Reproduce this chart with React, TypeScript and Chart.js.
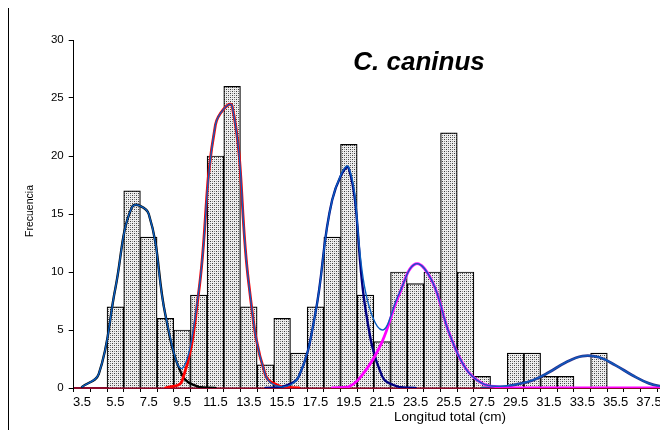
import React, { useEffect, useRef } from "react";
import { Chart, registerables } from "chart.js";

Chart.register(...registerables);

const FONT = "'Liberation Sans', Arial, Helvetica, sans-serif";

const categories = [
  "3.5", "4.5", "5.5", "6.5", "7.5", "8.5", "9.5", "10.5", "11.5", "12.5",
  "13.5", "14.5", "15.5", "16.5", "17.5", "18.5", "19.5", "20.5", "21.5", "22.5",
  "23.5", "24.5", "25.5", "26.5", "27.5", "28.5", "29.5", "30.5", "31.5", "32.5",
  "33.5", "34.5", "35.5", "36.5", "37.5", "38.5",
];

// observed frequencies (bars)
const frequency = [
  0, 0, 7, 17, 13, 6, 5, 8, 20, 26,
  7, 2, 6, 3, 7, 13, 21, 8, 4, 10,
  9, 10, 22, 10, 1, 0, 3, 3, 1, 1,
  0, 3, 0, 0, 0, 0,
];

// total fitted curve
const mixture = [
  0.1, 1.2, 8.6, 15.6, 15.0, 6.3, 1.7, 8.4, 22.7, 24.3,
  9.0, 1.1, 0.1, 1.0, 6.5, 16.2, 19.0, 8.3, 5.0, 8.1,
  10.7, 9.2, 4.8, 1.7, 0.4, 0.15, 0.3, 0.65, 1.35, 2.2,
  2.75, 2.65, 1.95, 1.1, 0.4, 0.05,
];

const N = null;
// cohort 1 (black)
const cohort1 = [
  0.1, 1.2, 8.6, 15.6, 15.0, 6.3, 1.1, 0.1, 0, N,
  N, N, N, N, N, N, N, N, N, N,
  N, N, N, N, N, N, N, N, N, N,
  N, N, N, N, N, N,
];
// cohort 2 (red)
const cohort2 = [
  N, N, N, N, N, 0, 0.6, 8.3, 22.7, 24.3,
  9.0, 1.1, 0.1, 0, N, N, N, N, N, N,
  N, N, N, N, N, N, N, N, N, N,
  N, N, N, N, N, N,
];
// cohort 3 (navy)
const cohort3 = [
  N, N, N, N, N, N, N, N, N, N,
  N, 0, 0.1, 1.0, 6.5, 16.2, 18.9, 6.8, 1.0, 0.1,
  0, N, N, N, N, N, N, N, N, N,
  N, N, N, N, N, N,
];
// cohort 4 (magenta)
const cohort4 = [
  N, N, N, N, N, N, N, N, N, N,
  N, N, N, N, N, 0, 0.1, 1.5, 4.0, 8.0,
  10.7, 9.2, 4.8, 1.7, 0.4, 0.1, 0, 0, 0, 0,
  0, 0, 0, 0, 0, 0,
];
// cohort 5 (blue-violet)
const cohort5 = [
  N, N, N, N, N, N, N, N, N, N,
  N, N, N, N, N, N, N, N, N, N,
  N, N, N, N, 0, 0.05, 0.3, 0.65, 1.35, 2.2,
  2.75, 2.65, 1.95, 1.1, 0.4, 0.05,
];

const yTicksMax = 30;
const yTickStep = 5;

export default function App() {
  const ref = useRef<HTMLCanvasElement>(null);

  useEffect(() => {
    document.documentElement.style.overflow = "hidden";
    const canvas = ref.current!;
    const pc = document.createElement("canvas");
    pc.width = 4;
    pc.height = 4;
    const p = pc.getContext("2d")!;
    p.fillStyle = "#eeeeee";
    p.fillRect(0, 0, 4, 4);
    p.fillStyle = "#3c3c3c";
    p.fillRect(0, 0, 1, 1);
    p.fillRect(2, 2, 1, 1);
    p.fillStyle = "#8c8c8c";
    p.fillRect(2, 0, 1, 1);
    p.fillRect(0, 2, 1, 1);
    const pattern = canvas.getContext("2d")!.createPattern(pc, "repeat");

    const decor = {
      id: "decor",
      afterDraw(chart: any) {
        const ctx = chart.ctx as CanvasRenderingContext2D;
        ctx.save();
        ctx.strokeStyle = "#000";
        ctx.lineWidth = 1;
        ctx.beginPath();
        ctx.moveTo(0.5, chart.height);
        ctx.lineTo(0.5, 0.5);
        ctx.lineTo(chart.width, 0.5);
        ctx.stroke();

        ctx.fillStyle = "#000";
        ctx.textAlign = "center";
        ctx.textBaseline = "alphabetic";
        ctx.font = `italic bold 26px ${FONT}`;
        ctx.fillText("C. caninus", 411, 63);

        ctx.textBaseline = "middle";
        ctx.font = `13.5px ${FONT}`;
        ctx.fillText("Longitud total (cm)", 442, 410);

        ctx.translate(22, 204);
        ctx.rotate(-Math.PI / 2);
        ctx.font = `10.5px ${FONT}`;
        ctx.fillText("Frecuencia", 0, 0);
        ctx.restore();
      },
    };

    const lineCommon = {
      type: "line" as const,
      pointRadius: 0,
      pointHoverRadius: 0,
      tension: 0.4,
      fill: false,
      borderCapStyle: "round" as const,
      borderJoinStyle: "round" as const,
    };

    const chart = new Chart(canvas, {
      type: "bar",
      data: {
        labels: categories,
        datasets: [
          { ...lineCommon, data: mixture, borderColor: "#0A5EC0", borderWidth: 1.4, order: 0 },
          { ...lineCommon, data: cohort4, borderColor: "#FF00FF", borderWidth: 2.8, order: 1 },
          { ...lineCommon, data: cohort5, borderColor: "#2E2E8C", borderWidth: 2.8, order: 2 },
          { ...lineCommon, data: cohort3, borderColor: "#000080", borderWidth: 2.4, order: 3 },
          { ...lineCommon, data: cohort2, borderColor: "#FF0000", borderWidth: 2.8, order: 4 },
          { ...lineCommon, data: cohort1, borderColor: "#000000", borderWidth: 2.4, order: 5 },
          {
            type: "bar",
            data: frequency,
            backgroundColor: pattern as any,
            borderColor: "#000",
            borderWidth: 1.2,
            barPercentage: 1,
            categoryPercentage: 1,
            order: 10,
          },
        ] as any,
      },
      options: {
        responsive: false,
        maintainAspectRatio: false,
        animation: false,
        devicePixelRatio: 1,
        layout: { padding: { left: 0, top: 33, right: 34, bottom: 0 } },
        plugins: {
          legend: { display: false },
          tooltip: { enabled: false },
          title: { display: false },
        },
        scales: {
          x: {
            type: "category",
            offset: true,
            grid: {
              display: true,
              offset: true,
              drawOnChartArea: false,
              drawTicks: true,
              tickLength: 4,
              tickColor: "#000",
              tickWidth: 1,
            },
            border: { display: true, color: "#8B0A2A", width: 2 },
            ticks: {
              autoSkip: false,
              maxRotation: 0,
              minRotation: 0,
              padding: 3,
              color: "#000",
              font: { family: FONT, size: 13 },
              callback: (_v: any, i: number) => (i % 2 === 0 ? categories[i] : ""),
            },
            afterFit: (s: any) => {
              s.height = 50;
            },
          },
          y: {
            min: 0,
            max: yTicksMax,
            ticks: {
              stepSize: yTickStep,
              padding: 5,
              color: "#000",
              font: { family: FONT, size: 11.5 },
            },
            grid: {
              drawOnChartArea: false,
              drawTicks: true,
              tickLength: 5,
              tickColor: "#000",
            },
            border: { display: true, color: "#000", width: 1 },
            afterFit: (s: any) => {
              s.width = 65.7;
            },
          },
        },
      } as any,
      plugins: [decor],
    });

    return () => chart.destroy();
  }, []);

  return (
    <div style={{ width: 660, height: 423, marginTop: -1, overflow: "hidden", position: "relative" }}>
      <canvas ref={ref} width={700} height={431} style={{ display: "block", width: 700, height: 431 }} />
    </div>
  );
}
